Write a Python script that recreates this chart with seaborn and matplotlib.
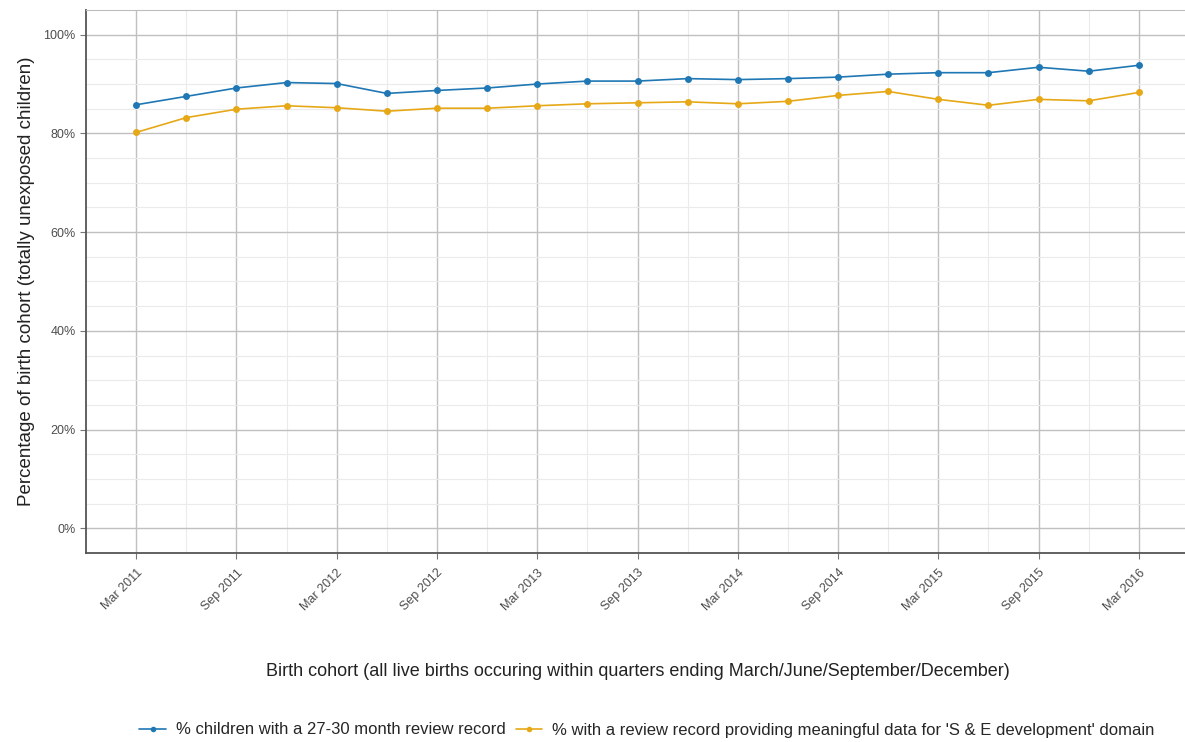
import pandas as pd
import numpy as np
import seaborn as sb
import matplotlib.pyplot as plt
from matplotlib.ticker import FixedLocator, PercentFormatter

# quarterly birth cohorts, Mar 2011 - Mar 2016
quarters = ['Mar 2011', 'Jun 2011', 'Sep 2011', 'Dec 2011',
            'Mar 2012', 'Jun 2012', 'Sep 2012', 'Dec 2012',
            'Mar 2013', 'Jun 2013', 'Sep 2013', 'Dec 2013',
            'Mar 2014', 'Jun 2014', 'Sep 2014', 'Dec 2014',
            'Mar 2015', 'Jun 2015', 'Sep 2015', 'Dec 2015',
            'Mar 2016']

review_record = [85.8, 87.5, 89.2, 90.3, 90.1, 88.1, 88.7, 89.2, 90.0, 90.6, 90.6,
                 91.1, 90.9, 91.1, 91.4, 92.0, 92.3, 92.3, 93.4, 92.6, 93.8]
se_domain = [80.2, 83.2, 84.9, 85.6, 85.2, 84.5, 85.1, 85.1, 85.6, 86.0, 86.2,
             86.4, 86.0, 86.5, 87.7, 88.5, 86.9, 85.7, 86.9, 86.6, 88.3]

series_names = ['% children with a 27-30 month review record',
                "% with a review record providing meaningful data for 'S & E development' domain"]
colours = ['#1F77B4', '#E6A817']

df = pd.DataFrame({
    'idx': list(range(len(quarters))) * 2,
    'pct': review_record + se_domain,
    'series': [series_names[0]] * len(quarters) + [series_names[1]] * len(quarters),
})

sb.set_style('white')
plt.rcParams['font.family'] = ['Liberation Sans', 'DejaVu Sans']

fig = plt.figure(figsize=(11.85, 7.42), dpi=100)
ax = fig.add_axes([86 / 1185, 1 - 553 / 742, 1103 / 1185, 543 / 742])

sb.lineplot(data=df, x='idx', y='pct', hue='series', hue_order=series_names,
            palette=colours, marker='o', markersize=5, markeredgewidth=0,
            linewidth=1.2, ax=ax, legend=False)

ax.set_ylim(-5, 105)
ax.set_xlim(-1, 21)
ax.yaxis.set_major_locator(FixedLocator([0, 20, 40, 60, 80, 100]))
ax.yaxis.set_minor_locator(FixedLocator(np.arange(5, 100, 5)))
ax.yaxis.set_major_formatter(PercentFormatter(decimals=0))
ax.set_xticks(range(0, len(quarters), 2))
ax.set_xticklabels(quarters[::2], rotation=45, ha='right', rotation_mode='anchor')
ax.xaxis.set_minor_locator(FixedLocator(range(1, len(quarters), 2)))

ax.grid(which='major', color='#c0c0c0', linewidth=1.0)
ax.grid(which='minor', color='#ebebeb', linewidth=0.8)
ax.set_axisbelow(True)

for side in ['top', 'right']:
    ax.spines[side].set_color('#bdbdbd')
for side in ['left', 'bottom']:
    ax.spines[side].set_color('#555555')
    ax.spines[side].set_linewidth(1.3)

ax.tick_params(axis='both', which='major', length=4, color='#777777',
               labelcolor='#4d4d4d', labelsize=9, bottom=True, left=True)
ax.tick_params(axis='x', which='major', pad=6)
ax.tick_params(axis='both', which='minor', length=0)

ax.set_xlabel('Birth cohort (all live births occuring within quarters ending March/June/September/December)',
              fontsize=13, color='#222222', labelpad=36)
ax.set_ylabel('Percentage of birth cohort (totally unexposed children)',
              fontsize=13.5, color='#222222', labelpad=6)

handles = [plt.Line2D([], [], color=c, marker='o', markersize=4, markeredgewidth=0, linewidth=1.2)
           for c in colours]
fig.legend(handles, series_names, loc='center', bbox_to_anchor=(0.546, 1 - 730 / 742),
           ncol=2, frameon=False, fontsize=12, handlelength=1.6, columnspacing=0.6,
           handletextpad=0.6)

fig.savefig('out.png', dpi=100)
